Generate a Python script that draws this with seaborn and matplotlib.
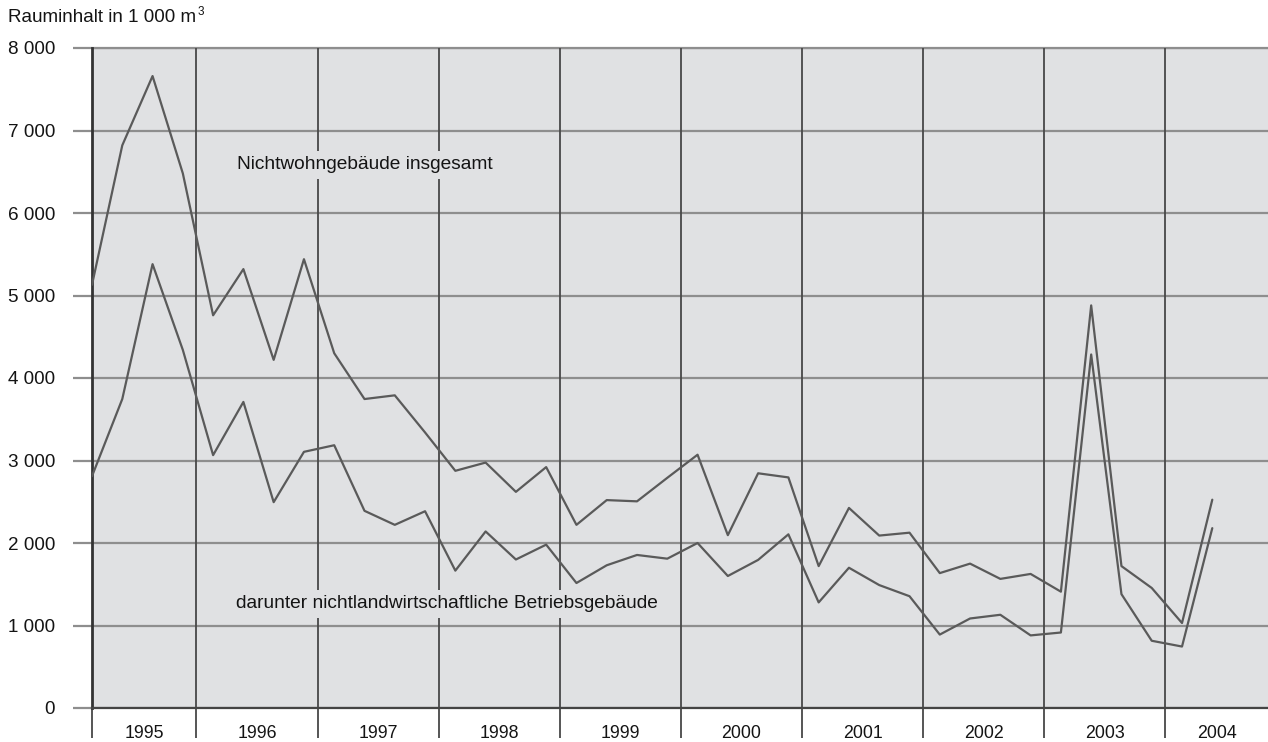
import numpy as np
import pandas as pd
import seaborn as sns
import matplotlib.pyplot as plt

# --------------------------------------------------
# Data: Rauminhalt (1 000 m³) per quarter, 1995 Q1 - 2004 Q2
# --------------------------------------------------
years = ["1995", "1996", "1997", "1998", "1999",
         "2000", "2001", "2002", "2003", "2004"]
quarters_per_year = [4, 4, 4, 4, 4, 4, 4, 4, 4, 2]

total = [5130, 6820, 7660, 6480,
         4760, 5320, 4220, 5440,
         4300, 3745, 3790, 3340,
         2875, 2975, 2620, 2920,
         2220, 2520, 2505, 2790,
         3070, 2095, 2845, 2795,
         1720, 2425, 2090, 2125,
         1635, 1750, 1565, 1625,
         1410, 4880, 1720, 1455,
         1030, 2525]

betrieb = [2810, 3745, 5380, 4340,
           3065, 3710, 2495, 3105,
           3185, 2390, 2220, 2385,
           1665, 2140, 1800, 1980,
           1515, 1730, 1855, 1810,
           2000, 1600, 1795, 2105,
           1280, 1700, 1490, 1355,
           890, 1085, 1130, 880,
           915, 4285, 1380, 815,
           745, 2180]

label_total = "Nichtwohngebäude insgesamt"
label_betrieb = "darunter nichtlandwirtschaftliche Betriebsgebäude"
y_label = "Rauminhalt in 1 000 m"

# --------------------------------------------------
# Build a long table for seaborn
# --------------------------------------------------
quarter = np.arange(len(total))
df = pd.DataFrame({"Quartal": quarter, label_total: total, label_betrieb: betrieb})
long_df = df.melt(id_vars="Quartal", var_name="Reihe", value_name="Rauminhalt")

sns.set_theme(style="white")
plt.rcParams["font.family"] = ["Liberation Sans", "DejaVu Sans"]

bg = "#e0e1e3"
line_col = "#5a5a5a"
grid_col = "#8e8e8e"
sep_col = "#484848"
text_col = "#141414"

fig = plt.figure(figsize=(12.68, 7.42), dpi=100)
ax = fig.add_axes([92 / 1268, 34 / 742, 1 - 92 / 1268, 660 / 742])
ax.set_facecolor(bg)

sns.lineplot(data=long_df, x="Quartal", y="Rauminhalt", hue="Reihe",
             palette=[line_col, line_col], linewidth=1.6, legend=False,
             ax=ax, zorder=3)

# year separators
bounds = np.cumsum([0] + quarters_per_year) - 0.55
bounds[0] = 0
xmax = 38.84
for b in bounds[1:-1]:
    ax.axvline(b, color=sep_col, lw=1.3, zorder=2)

ax.set_xlim(0, xmax)
ax.set_ylim(0, 8000)

# y axis
yticks = np.arange(0, 8001, 1000)
ax.set_yticks(yticks)
ax.set_yticklabels([f"{v:,}".replace(",", " ") for v in yticks], fontsize=13.6, color=text_col)
ax.grid(axis="y", color=grid_col, lw=1.6, zorder=1)
ax.tick_params(axis="y", which="major", length=13.7, width=1.6, color=grid_col, pad=13, left=True)

# x axis: year labels between separators, separator ticks below the axis
edges = list(bounds[:-1]) + [xmax]
centers = [(edges[i] + edges[i + 1]) / 2 for i in range(len(years))]
ax.set_xticks(centers)
ax.set_xticklabels(years, fontsize=12.8, color=text_col)
ax.tick_params(axis="x", which="major", length=0, pad=12)
ax.set_xticks(bounds[:-1], minor=True)
ax.tick_params(axis="x", which="minor", length=21.6, width=1.3, color=sep_col, bottom=True)
ax.set_xlabel("")
ax.set_ylabel("")

for side in ["top", "right"]:
    ax.spines[side].set_visible(False)
ax.spines["left"].set_color("#333333")
ax.spines["left"].set_linewidth(2)
ax.spines["bottom"].set_color("#444444")
ax.spines["bottom"].set_linewidth(1.6)
ax.axhline(8000, color=grid_col, lw=1.6, clip_on=False, zorder=1)

# series labels
box = dict(boxstyle="square,pad=0.3", facecolor=bg, edgecolor="none")
ax.text(4.79, 6584, label_total, fontsize=13.8, color=text_col,
        va="center", ha="left", bbox=box, zorder=4)
ax.text(4.76, 1263, label_betrieb, fontsize=13.8, color=text_col,
        va="center", ha="left", bbox=box, zorder=4)

# axis title with a small raised "3"
t = fig.text(8 / 1268, 1 - 18 / 742, y_label, fontsize=13.6, color=text_col,
             ha="left", va="center")
fig.canvas.draw()
bb = t.get_window_extent()
fig.text((bb.x1 + 1) / 1268, 1 - 12 / 742, "3", fontsize=8.5, color=text_col,
         ha="left", va="center")

fig.savefig("out.png", dpi=100)
